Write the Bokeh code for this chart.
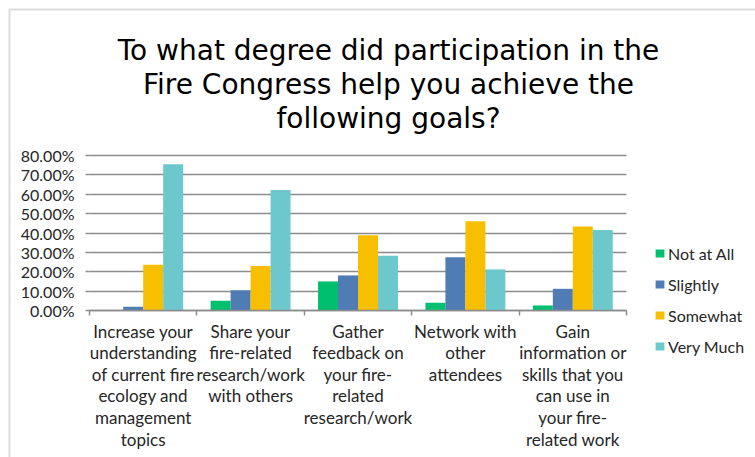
from bokeh.plotting import figure
from bokeh.models import (FixedTicker, NumeralTickFormatter, Legend, LegendItem,
                          ColumnDataSource, Grid, BoxAnnotation)
from bokeh.core.properties import value
from bokeh.embed import file_html
from bokeh.resources import INLINE

categories = [
    "Increase your\nunderstanding\nof current fire\necology and\nmanagement\ntopics",
    "Share your\nfire-related\nresearch/work\nwith others",
    "Gather\nfeedback on\nyour fire-\nrelated\nresearch/work",
    "Network with\nother\nattendees",
    "Gain\ninformation or\nskills that you\ncan use in\nyour fire-\nrelated work",
]
series_names = ["Not at All", "Slightly", "Somewhat", "Very Much"]
not_at_all = [0.0, 0.050, 0.150, 0.040, 0.026]
slightly = [0.020, 0.105, 0.181, 0.275, 0.112]
somewhat = [0.236, 0.230, 0.389, 0.461, 0.434]
very_much = [0.755, 0.622, 0.282, 0.212, 0.416]
y_ticks = [0.0, 0.1, 0.2, 0.3, 0.4, 0.5, 0.6, 0.7, 0.8]
title_lines = [
    "To what degree did participation in the",
    "Fire Congress help you achieve the",
    "following goals?",
]

colors = ["#00BF6F", "#4F7CB4", "#F8BE00", "#6CC8CC"]
series = [not_at_all, slightly, somewhat, very_much]
n = len(categories)

# canvas geometry (pixels)
W, H = 755, 457
LEFT = 89                 # x of plot-area left edge
PX_X = 107.4              # pixels per category
TOP_Y, ZERO_Y = 155, 310  # y of 80% line and of 0% line
PX_Y = (ZERO_Y - TOP_Y) / 0.8

x_start = -0.5 - LEFT / PX_X
x_end = x_start + W / PX_X
y_end = 0.8 + TOP_Y / PX_Y
y_start = y_end - H / PX_Y


def xd(px):
    return x_start + px / PX_X


def yd(py):
    return y_end - py / PX_Y


p = figure(width=W, height=H, output_backend="svg", toolbar_location=None,
           x_range=(x_start, x_end), y_range=(y_start, y_end), min_border=0)
p.outline_line_color = None
p.background_fill_color = "white"
p.border_fill_color = "white"

# outer chart border (left and top edges visible)
p.add_layout(BoxAnnotation(left=xd(9), top=yd(9), right=xd(W + 20), bottom=yd(H + 20),
                           fill_alpha=0, line_color="#8a8a8a", line_width=2))

# gridlines limited to the plot area
p.xgrid.grid_line_color = None
p.ygrid.grid_line_color = None
g = Grid(dimension=1, ticker=FixedTicker(ticks=y_ticks), grid_line_color="#8c8c8c",
         grid_line_width=1.5)
if "cross_bounds" in Grid.properties():
    g.cross_bounds = (-0.5, n - 0.5)
p.add_layout(g)

bw = 0.186
items = []
idx = list(range(n))
for k, (name, vals, col) in enumerate(zip(series_names, series, colors)):
    off = (k - 1.5) * bw
    r = p.vbar(x=[i + off for i in idx], top=vals, width=bw, bottom=0,
               fill_color=col, line_color=None)
    items.append(LegendItem(label=name, renderers=[r]))

# x axis at y = 0
xa = p.xaxis[0]
xa.fixed_location = 0
xa.bounds = (-0.5, n - 0.5)
xa.ticker = FixedTicker(ticks=idx, minor_ticks=[i - 0.5 for i in range(n + 1)])
xa.major_label_overrides = {i: c for i, c in enumerate(categories)}
xa.major_tick_out = 0
xa.major_tick_in = 0
xa.minor_tick_out = 5
xa.minor_tick_in = 0
xa.minor_tick_line_color = "#8c8c8c"
xa.minor_tick_line_width = 1.5
xa.axis_line_color = "#8c8c8c"
xa.axis_line_width = 1.5
xa.major_label_text_font = "Lato"
xa.major_label_text_font_size = "17px"
xa.major_label_text_color = "#262626"
xa.major_label_text_line_height = 1.03
xa.major_label_standoff = 5

# y axis at the left edge of the plot area
ya = p.yaxis[0]
ya.fixed_location = -0.5
ya.bounds = (0, 0.8)
ya.ticker = FixedTicker(ticks=y_ticks)
ya.formatter = NumeralTickFormatter(format="0.00%")
ya.axis_line_color = None
ya.major_tick_out = 4
ya.major_tick_in = 0
ya.major_tick_line_color = "#8c8c8c"
ya.major_tick_line_width = 1.5
ya.minor_tick_line_color = None
ya.major_label_text_font = "Lato"
ya.major_label_text_font_size = "16px"
ya.major_label_text_color = "#262626"
ya.major_label_standoff = 11

# title
tsrc = ColumnDataSource(dict(
    x=[xd(388)] * 3,
    y=[yd(b) for b in (50, 84, 118)],
    text=title_lines))
p.text(x="x", y="y", text="text", source=tsrc, text_align="center",
       text_baseline="alphabetic", text_font=value("DejaVu Sans"),
       text_font_size="28px", text_color="#000000")

legend = Legend(items=items, location=(654, H - 356), orientation="vertical",
                border_line_color=None, background_fill_alpha=0,
                label_text_font="Lato", label_text_font_size="16px",
                label_text_color="#262626", glyph_width=11, glyph_height=10,
                label_height=20, spacing=11, padding=0, margin=0,
                label_standoff=3)
p.add_layout(legend, "center")

open("out.html", "w").write(file_html(p, INLINE))
